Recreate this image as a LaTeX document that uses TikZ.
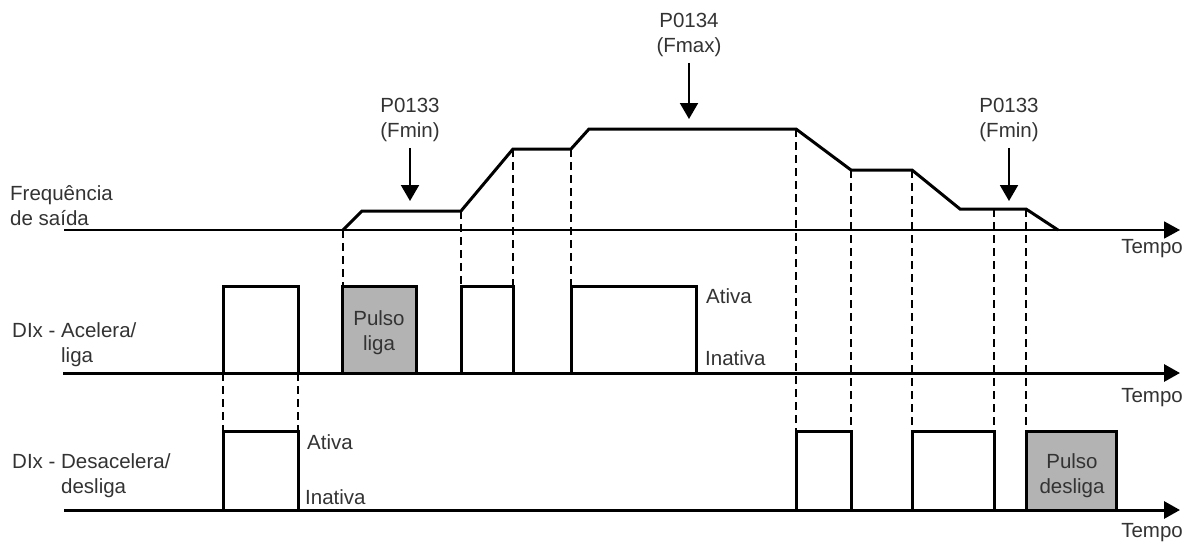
\documentclass[tikz,border=0pt]{standalone}
\usepackage{fontspec}
\setmainfont{Liberation Sans}
\usetikzlibrary{arrows.meta,positioning}
\definecolor{inkgray}{HTML}{333333}
\definecolor{pulsefill}{HTML}{B3B3B3}
\tikzset{
  axisline/.style={line width=2pt, draw=black, -{Triangle[length=16pt,width=17pt]}},
  signal/.style={line width=3pt, draw=black, line join=miter},
  pulse/.style={signal, fill=pulsefill},
  guide/.style={line width=1.5pt, draw=black, dash pattern=on 8pt off 5pt},
  pointer/.style={line width=2pt, draw=black, -{Triangle[length=16pt,width=18pt]}},
  lbl/.style={text=inkgray, font=\fontsize{20.5}{25}\selectfont, inner sep=0pt, align=left}
}

\begin{document}
\begin{tikzpicture}[x=1pt,y=-1pt]
  \useasboundingbox (0,0) rectangle (1191,544);
  % breakpoints of the output frequency
  \coordinate (f1) at (343,230);
  \coordinate (f2) at (362,211);
  \coordinate (f3) at (461,211);
  \coordinate (f4) at (513,149);
  \coordinate (f5) at (571,149);
  \coordinate (f6) at (589,129);
  \coordinate (f7) at (796,129);
  \coordinate (f8) at (851,170);
  \coordinate (f9) at (912,170);
  \coordinate (f10) at (960,209);
  \coordinate (f11) at (994,209);
  \coordinate (f12) at (1026,209);
  \coordinate (f13) at (1058,230);

  % dashed guides
  \foreach \p in {f1,f3,f4,f5}
    \draw[guide] (\p) -- (\p |- 0,286);
  \foreach \p in {f7,f8,f9,f11,f12}
    \draw[guide] (\p) -- (\p |- 0,431);
  \foreach \x in {223,298}
    \draw[guide] (\x,373) -- (\x,431);

  % output frequency
  \node[lbl, anchor=west] (freq) at (10,206) {Frequência\\de saída};
  \draw[axisline, line width=1.8pt] (64,230) -- (1180,230);
  \node[lbl, anchor=east] (tempo1) at (1183,249) {Tempo};
  \draw[signal] (f1) -- (f2) -- (f3) -- (f4) -- (f5) -- (f6) -- (f7) -- (f8)
    -- (f9) -- (f10) -- (f12) -- (f13);

  \node[lbl, align=center] (fmax) at (689,35) {P0134\\(Fmax)};
  \coordinate (fmaxtip) at (689,119);
  \draw[pointer, shorten <=6pt] (fmax.south) -- (fmaxtip);
  \node[lbl, align=center] (fmin1) at (410,120) {P0133\\(Fmin)};
  \coordinate (fmin1tip) at (410,201);
  \draw[pointer, shorten <=6pt] (fmin1.south) -- (fmin1tip);
  \node[lbl, align=center] (fmin2) at (1009,120) {P0133\\(Fmin)};
  \coordinate (fmin2tip) at (1009,201);
  \draw[pointer, shorten <=6pt] (fmin2.south) -- (fmin2tip);

  % DIx acelera / liga
  \node[lbl, anchor=west] (acel) at (12,345) {DIx - Acelera/\\\phantom{DIx - }liga};
  \draw[axisline, line width=3pt] (63,373) -- (1180,373);
  \node[lbl, anchor=east] (tempo2) at (1183,398) {Tempo};
  \foreach \a/\b in {223/298, 461/513, 571/696}
    \draw[signal] (\a,373) -- (\a,286) -- (\b,286) -- (\b,373);
  \draw[pulse] (342,373) rectangle (416,286);
  \node[lbl, align=center] (pliga) at (379,333) {Pulso\\liga};
  \node[lbl, anchor=west] (ativa1) at (706,296) {Ativa};
  \node[lbl, anchor=west] (inativa1) at (705,358) {Inativa};

  % DIx desacelera / desliga
  \node[lbl, anchor=west] (desacel) at (12,476) {DIx - Desacelera/\\\phantom{DIx - }desliga};
  \draw[axisline, line width=3pt] (64,510) -- (1180,510);
  \node[lbl, anchor=east] (tempo3) at (1183,533) {Tempo};
  \foreach \a/\b in {223/298, 796/851, 912/994}
    \draw[signal] (\a,510) -- (\a,431) -- (\b,431) -- (\b,510);
  \draw[pulse] (1026,510) rectangle (1116,431);
  \node[lbl, align=center] (pdesliga) at (1072,476) {Pulso\\desliga};
  \node[lbl, anchor=west] (ativa2) at (307,442) {Ativa};
  \node[lbl, anchor=west] (inativa2) at (305,497) {Inativa};
\end{tikzpicture}
\end{document}
